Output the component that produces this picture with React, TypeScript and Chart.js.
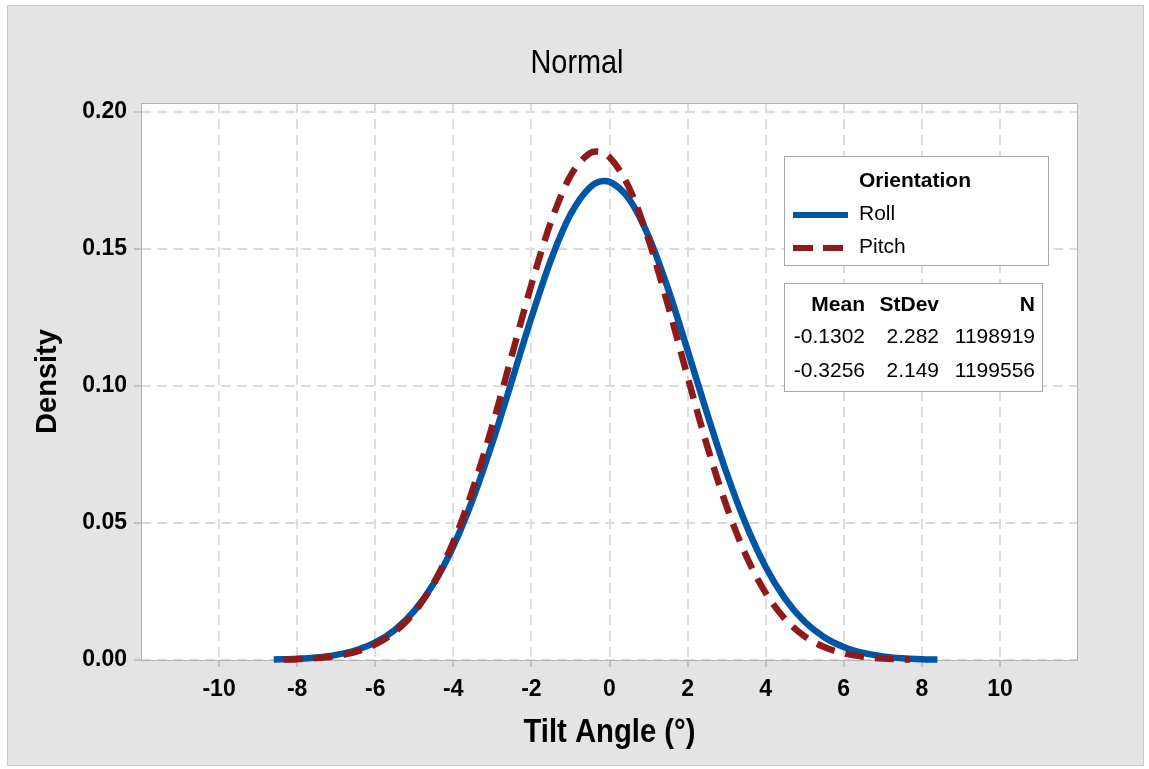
import React, { useEffect, useRef } from 'react';
import { Chart, registerables } from 'chart.js';

Chart.register(...registerables);

const titleText = 'Normal';
const xAxisTitle = 'Tilt Angle (°)';
const yAxisTitle = 'Density';
const legendTitle = 'Orientation';
const seriesNames = ['Roll', 'Pitch'];
const seriesColors = ['#0055A5', '#8E1A1A'];

const xTicks = [-10, -8, -6, -4, -2, 0, 2, 4, 6, 8, 10];
const yTicks = [0, 0.05, 0.1, 0.15, 0.2];

const rollX = [-8.6, -8, -7.5, -7, -6.5, -6, -5.5, -5, -4.5, -4, -3.5, -3, -2.5, -2, -1.5, -1, -0.5, -0.13, 0, 0.5, 1, 1.5, 2, 2.5, 3, 3.5, 4, 4.5, 5, 5.5, 6, 6.5, 7, 7.5, 8, 8.4];
const rollDensity = [0.000178, 0.000457, 0.00095, 0.001882, 0.003553, 0.006396, 0.01097, 0.017935, 0.027953, 0.041513, 0.058761, 0.079281, 0.101956, 0.124971, 0.146, 0.162572, 0.172541, 0.174821, 0.174536, 0.168281, 0.154643, 0.135449, 0.113074, 0.089975, 0.068243, 0.049328, 0.03398, 0.022318, 0.013966, 0.008334, 0.004738, 0.002568, 0.001326, 0.000653, 0.000306, 0.000162];

const pitchX = [-8.35, -8, -7.5, -7, -6.5, -6, -5.5, -5, -4.5, -4, -3.5, -3, -2.5, -2, -1.5, -1, -0.5, -0.33, 0, 0.5, 1, 1.5, 2, 2.5, 3, 3.5, 4, 4.5, 5, 5.5, 6, 6.5, 7, 7.5, 7.7];
const pitchDensity = [0.000174, 0.000316, 0.000705, 0.001493, 0.002993, 0.005686, 0.010231, 0.017428, 0.02814, 0.043041, 0.062353, 0.085579, 0.111264, 0.137039, 0.159891, 0.176721, 0.18503, 0.185641, 0.183522, 0.172435, 0.153481, 0.129411, 0.103371, 0.078214, 0.056062, 0.038064, 0.024486, 0.014918, 0.008613, 0.004708, 0.002439, 0.001197, 0.000557, 0.000245, 0.000174];

const statsHeader = ['Mean', 'StDev', 'N'];
const statsMean = ['-0.1302', '-0.3256'];
const statsStDev = ['2.282', '2.149'];
const statsN = ['1198919', '1199556'];

const FONT = '"Liberation Sans", Arial, sans-serif';

function squashedText(ctx: CanvasRenderingContext2D, text: string, x: number, y: number, sx: number) {
  ctx.save();
  ctx.translate(x, y);
  ctx.scale(sx, 1);
  ctx.fillText(text, 0, 0);
  ctx.restore();
}

const decorPlugin = {
  id: 'decor',
  beforeDraw(chart: any) {
    const ctx = chart.ctx;
    const { left, top, right, bottom } = chart.chartArea;
    ctx.save();
    ctx.fillStyle = '#ffffff';
    ctx.fillRect(0, 0, chart.width, chart.height);
    ctx.fillStyle = '#e4e4e4';
    ctx.fillRect(7, 5, 1137, 761);
    ctx.strokeStyle = '#c8c8c8';
    ctx.lineWidth = 1;
    ctx.strokeRect(7.5, 5.5, 1136, 760);
    ctx.fillStyle = '#ffffff';
    ctx.fillRect(left, top, right - left, bottom - top);
    ctx.restore();
  },
  beforeDatasetsDraw(chart: any) {
    const ctx = chart.ctx;
    const { left, top, right, bottom } = chart.chartArea;
    ctx.save();
    ctx.strokeStyle = '#b4b4b4';
    ctx.lineWidth = 1;
    ctx.setLineDash([]);
    ctx.strokeRect(left + 0.5, top + 0.5, right - left - 1, bottom - top);
    ctx.restore();
  },
  afterDraw(chart: any) {
    const ctx = chart.ctx;
    const { left, top, right, bottom } = chart.chartArea;
    ctx.save();
    ctx.setLineDash([]);
    ctx.fillStyle = '#000';
    ctx.textBaseline = 'alphabetic';

    // Title
    ctx.font = `33px ${FONT}`;
    ctx.textAlign = 'center';
    squashedText(ctx, titleText, 577, 73, 0.875);

    // X axis title
    ctx.font = `bold 34px ${FONT}`;
    squashedText(ctx, xAxisTitle, (left + right) / 2, 742, 0.86);

    // Y axis title
    ctx.font = `bold 29px ${FONT}`;
    ctx.save();
    ctx.translate(56, (top + bottom) / 2);
    ctx.rotate(-Math.PI / 2);
    ctx.fillText(yAxisTitle, 0, 0);
    ctx.restore();

    // Legend box
    ctx.fillStyle = '#ffffff';
    ctx.fillRect(784, 156, 265, 110);
    ctx.strokeStyle = '#a8a8a8';
    ctx.lineWidth = 1;
    ctx.strokeRect(784.5, 156.5, 264, 109);
    ctx.fillStyle = '#000';
    ctx.textAlign = 'left';
    ctx.font = `bold 21px ${FONT}`;
    ctx.fillText(legendTitle, 859, 187);
    ctx.font = `21px ${FONT}`;
    ctx.fillText(seriesNames[0], 859, 220);
    ctx.fillText(seriesNames[1], 859, 253);
    ctx.lineCap = 'butt';
    ctx.lineWidth = 6;
    ctx.strokeStyle = seriesColors[0];
    ctx.beginPath();
    ctx.moveTo(793, 215);
    ctx.lineTo(848, 215);
    ctx.stroke();
    ctx.strokeStyle = seriesColors[1];
    ctx.setLineDash([20, 10]);
    ctx.beginPath();
    ctx.moveTo(793, 248);
    ctx.lineTo(845, 248);
    ctx.stroke();
    ctx.setLineDash([]);

    // Stats box
    ctx.fillStyle = '#ffffff';
    ctx.fillRect(784, 283, 259, 109);
    ctx.strokeStyle = '#a8a8a8';
    ctx.lineWidth = 1;
    ctx.strokeRect(784.5, 283.5, 258, 108);
    ctx.fillStyle = '#000';
    ctx.textAlign = 'right';
    const cols = [865, 939, 1035];
    ctx.font = `bold 21px ${FONT}`;
    statsHeader.forEach((h, i) => ctx.fillText(h, cols[i], 311));
    ctx.font = `21px ${FONT}`;
    const rowsY = [343, 377];
    for (let r = 0; r < 2; r++) {
      ctx.fillText(statsMean[r], cols[0], rowsY[r]);
      ctx.fillText(statsStDev[r], cols[1], rowsY[r]);
      ctx.fillText(statsN[r], cols[2], rowsY[r]);
    }
    ctx.restore();
  },
};

export default function App() {
  const canvasRef = useRef<HTMLCanvasElement | null>(null);

  useEffect(() => {
    document.body.style.margin = '0';
    const canvas = canvasRef.current;
    if (!canvas) return;
    const rollData = rollX.map((x, i) => ({ x, y: rollDensity[i] }));
    const pitchData = pitchX.map((x, i) => ({ x, y: pitchDensity[i] }));

    const chart = new Chart(canvas, {
      type: 'line',
      data: {
        datasets: [
          {
            label: seriesNames[0],
            data: rollData,
            borderColor: seriesColors[0],
            borderWidth: 6.5,
            pointRadius: 0,
            cubicInterpolationMode: 'monotone',
            fill: false,
            clip: false,
            order: 2,
          },
          {
            label: seriesNames[1],
            data: pitchData,
            borderColor: seriesColors[1],
            borderWidth: 6.5,
            borderDash: [19, 11],
            pointRadius: 0,
            cubicInterpolationMode: 'monotone',
            fill: false,
            clip: false,
            order: 1,
          },
        ],
      },
      options: {
        animation: false,
        responsive: false,
        maintainAspectRatio: false,
        devicePixelRatio: 1,
        layout: { padding: { top: 103, right: 71, left: 0, bottom: 0 } },
        plugins: {
          legend: { display: false },
          title: { display: false },
          tooltip: { enabled: false },
        },
        scales: {
          x: {
            type: 'linear',
            min: -12,
            max: 12,
            afterFit: (scale: any) => {
              scale.height = 109;
            },
            afterBuildTicks: (scale: any) => {
              scale.ticks = xTicks.map((v) => ({ value: v }));
            },
            ticks: {
              color: '#000',
              font: { family: FONT, size: 23, weight: 'bold' },
              padding: 9,
              maxRotation: 0,
              autoSkip: false,
              callback: (v: any) => String(v),
            },
            grid: {
              color: '#dcdcdc',
              lineWidth: 2,
              tickColor: '#a0a0a0',
              tickWidth: 1,
              tickLength: 7,
              tickBorderDash: [],
            },
            border: { display: false, dash: [10, 6] },
          },
          y: {
            type: 'linear',
            min: 0,
            max: 0.2033,
            afterFit: (scale: any) => {
              scale.width = 141;
            },
            afterBuildTicks: (scale: any) => {
              scale.ticks = yTicks.map((v) => ({ value: v }));
            },
            ticks: {
              color: '#000',
              font: { family: FONT, size: 23, weight: 'bold' },
              padding: 7,
              autoSkip: false,
              callback: (v: any) => Number(v).toFixed(2),
            },
            grid: {
              color: '#dcdcdc',
              lineWidth: 2,
              tickColor: '#a0a0a0',
              tickWidth: 1,
              tickLength: 7,
              tickBorderDash: [],
            },
            border: { display: false, dash: [10, 6] },
          },
        },
      },
      plugins: [decorPlugin],
    });
    return () => chart.destroy();
  }, []);

  return (
    <div style={{ width: 1149, height: 769 }}>
      <canvas ref={canvasRef} width={1149} height={769} style={{ display: 'block' }} />
    </div>
  );
}
